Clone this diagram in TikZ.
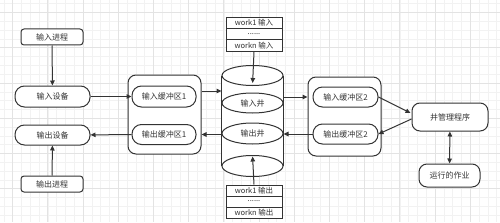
\documentclass[tikz,border=0pt]{standalone}
\usepackage{fontspec}
\setmainfont{Noto Sans CJK SC}
\usetikzlibrary{arrows.meta,shapes.geometric,calc}
\begin{document}
\begin{tikzpicture}[x=1pt,y=-1pt,
  line/.style={draw=black!80, line width=1pt},
  tip/.tip={Triangle[length=5pt,width=4.5pt]},
  arr/.style={line,-tip},
  darr/.style={line,tip-tip},
  txt/.style={font=\fontsize{8}{10}\selectfont, text=black!80},
  proc/.style={line, txt, fill=white, rounded corners=3pt, minimum width=62pt, minimum height=16pt, inner sep=0pt},
  pill/.style={line, txt, fill=white, rounded corners=9.5pt, inner sep=0pt},
  grp/.style={line, fill=white, rounded corners=8pt, minimum width=73pt, minimum height=79pt, inner sep=0pt},
  soft/.style={line, txt, fill=white, rounded corners=8pt, inner sep=0pt},
  well/.style={line, txt, fill=white, ellipse, minimum width=61pt, minimum height=20pt, inner sep=0pt},
  cell/.style={line, txt, fill=white, minimum width=56pt, minimum height=11.3pt, inner sep=0pt, font=\fontsize{7.5}{9}\selectfont},
  gminor/.style={draw=black!5, line width=0.4pt},
  gmajor/.style={draw=black!11, line width=0.5pt}
]
\useasboundingbox (0,0) rectangle (500,222);
% background grid
\foreach \k in {-2,...,57} {\draw[gminor] ({12.5+8.8*\k},0) -- ({12.5+8.8*\k},222);}
\foreach \k in {-2,...,25} {\draw[gminor] (0,{12.5+8.8*\k}) -- (500,{12.5+8.8*\k});}
\foreach \k in {0,...,14} {\draw[gmajor] ({12.5+35.2*\k},0) -- ({12.5+35.2*\k},222);}
\foreach \k in {0,...,6} {\draw[gmajor] (0,{12.5+35.2*\k}) -- (500,{12.5+35.2*\k});}

% left column
\node[proc] (inproc) at (52,37) {输入进程};
\node[pill, minimum width=75pt, minimum height=21pt] (indev) at (52.5,96.5) {输入设备};
\node[pill, minimum width=75pt, minimum height=20pt] (outdev) at (52.5,135) {输出设备};
\node[proc] (outproc) at (52,184) {输出进程};

% buffer group 1
\node[grp] (box1) at (164.5,114.5) {};
\node[pill, minimum width=64pt, minimum height=21pt] (inb1) at (164,96.5) {输入缓冲区1};
\node[pill, minimum width=64pt, minimum height=20pt] (outb1) at (164,134.5) {输出缓冲区1};

% buffer group 2
\node[grp] (box2) at (344.5,116.5) {};
\node[pill, minimum width=65pt, minimum height=20pt] (inb2) at (345.5,97) {输入缓冲区2};
\node[pill, minimum width=65pt, minimum height=20pt] (outb2) at (345.5,134) {输出缓冲区2};

% cylinder
\fill[white] (222,75.5) rectangle (283,166);
\node[well] (top) at (252.5,75.5) {};
\node[well] (inwell) at (252.5,103) {输入井};
\node[well, minimum height=21pt] (outwell) at (252.5,133.5) {输出井};
\node[well, minimum height=21pt] (bot) at (252.5,166) {};
\draw[line] (top.west) -- (bot.west) (top.east) -- (bot.east);

% tables
\node[cell] (t1) at (254,23) {work1 输入};
\node[cell] (t2) at (254,34.3) {......};
\node[cell] (t3) at (254,45.6) {workn 输入};
\node[cell, minimum height=11pt] (b1) at (254,190.5) {work1 输出};
\node[cell, minimum height=11pt] (b2) at (254,201.5) {......};
\node[cell, minimum height=11pt] (b3) at (254,212.5) {workn 输出};

% manager
\node[soft, minimum width=76pt, minimum height=28pt] (mgr) at (450,117) {井管理程序};
\node[soft, minimum width=61pt, minimum height=23pt] (job) at (449.5,175.5) {运行的作业};

% connectors
\draw[arr] (inproc) -- (indev);
\draw[arr] (outproc) -- (outdev);
\draw[arr] (indev) -- (inb1);
\draw[arr] (outb1) -- (outdev);
\coordinate (ya) at (0,91);
\coordinate (yb) at (0,97);
\draw[arr] (box1.east |- ya) -- (top.west |- ya);
\draw[arr] (top.east |- yb) -- (box2.west |- yb);
\draw[arr] (outb2.west) -- (outwell.east |- outb2.west);
\draw[arr] (outwell.west |- outb1.east) -- (box1.east |- outb1.east);
\draw[arr, shorten >=3pt] (t3.south) -- (top.south);
\draw[arr, shorten >=1.5pt] (b1.north) -- (bot.north);
\draw[arr] (inb2.east) -- ([yshift=4pt,xshift=-1pt]mgr.west);
\draw[arr] ([yshift=-2pt]mgr.west) -- (outb2.east);
\draw[darr] (mgr) -- (job);
\end{tikzpicture}
\end{document}
